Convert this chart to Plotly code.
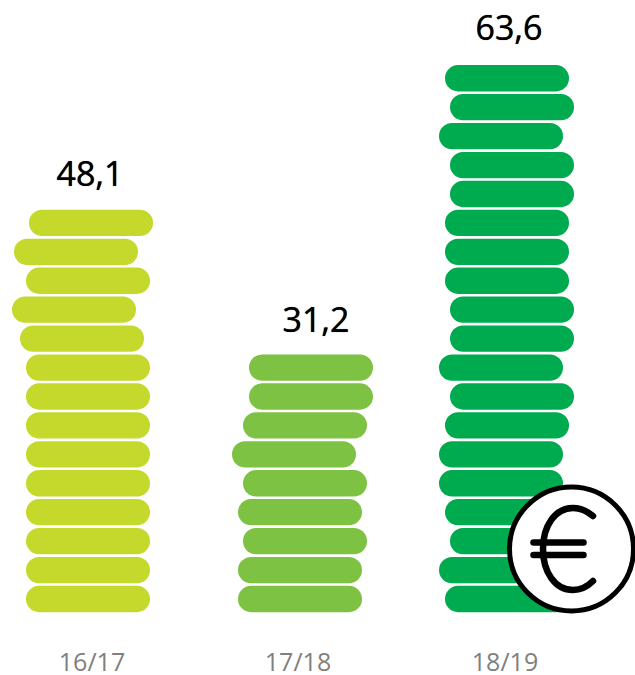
import plotly.graph_objects as go

seasons = ["16/17", "17/18", "18/19"]
totals = ["48,1", "31,2", "63,6"]
colors = ["#C5D92D", "#7DC242", "#00AB4F"]
centers = [92, 298, 505]
label_x = [90, 316, 509]
label_rows = [13.98, 8.95, 19.02]
coin_width = 124
# left edge of each coin in the stack, bottom coin first
lefts_1617 = [26, 26, 26, 26, 26, 26, 26, 26, 26, 20, 12, 26, 14, 29]
lefts_1718 = [238, 238, 243, 238, 243, 232, 243, 249, 249]
lefts_1819 = [445, 439, 450, 445, 439, 439, 445, 450, 439, 450, 450, 445, 445, 445, 450, 450, 439, 450, 445]
stacks = [lefts_1617, lefts_1718, lefts_1819]

W, H = 635, 675
plot_h = 640
row_px = 28.93
row0_y = 599

fig = go.Figure()
for lefts, color, name in zip(stacks, colors, seasons):
    rows = list(range(len(lefts)))
    fig.add_trace(go.Bar(
        y=rows, x=[coin_width] * len(lefts), base=lefts, orientation="h",
        width=0.91, marker=dict(color=color, line_width=0), name=name, hoverinfo="skip",
    ))

fig.add_trace(go.Scatter(
    x=label_x, y=label_rows, text=totals, mode="text",
    textposition="top center",
    textfont=dict(family="Open Sans", size=34, color="#000000", shadow="0 0 0.7px #000000"),
    cliponaxis=False, hoverinfo="skip",
))

cx, cy = 571.5, 549
R = 62
def px_path(d):
    return dict(type="path", layer="above", path=d, xref="x", yref="paper",
                xsizemode="pixel", ysizemode="pixel", xanchor=cx, yanchor=1 - cy / plot_h,
                line=dict(color="#000000", width=6.5))

shapes = [
    dict(type="circle", layer="above", xref="x", yref="paper", xsizemode="pixel", ysizemode="pixel",
         xanchor=cx, yanchor=1 - cy / plot_h, x0=-R, x1=R, y0=-R, y1=R,
         fillcolor="#FFFFFF", line=dict(color="#000000", width=5)),
    px_path("M 21.5 33 C 15.5 38 7.5 41 1.5 41 C -16.5 41 -28.5 23 -28.5 0 C -28.5 -23 -16.5 -41 1.5 -41 C 7.5 -41 15.5 -38 21.5 -32"),
    px_path("M -38 6.5 L 12 6.5"),
    px_path("M -38 -6 L 12 -6"),
]

fig.update_layout(
    width=W, height=H, margin=dict(l=0, r=0, t=0, b=H - plot_h), autosize=False,
    paper_bgcolor="#FFFFFF", plot_bgcolor="#FFFFFF", barmode="overlay",
    barcornerradius=13, showlegend=False, shapes=shapes,
    xaxis=dict(range=[0, W], tickvals=centers, ticktext=seasons, showgrid=False, zeroline=False,
               showline=False, ticks="", ticklabelstandoff=5, automargin=False,
               tickfont=dict(family="Open Sans", size=25, color="#808080")),
    yaxis=dict(range=[(row0_y - plot_h) / row_px, row0_y / row_px], visible=False, automargin=False),
)
post = ("document.body.style.margin='0';document.documentElement.style.overflow='hidden';"
        "document.querySelectorAll('.shapelayer path').forEach(function(p){p.style.strokeLinecap='round';});")
fig.write_html("out.html", config={"displayModeBar": False}, post_script=post)
